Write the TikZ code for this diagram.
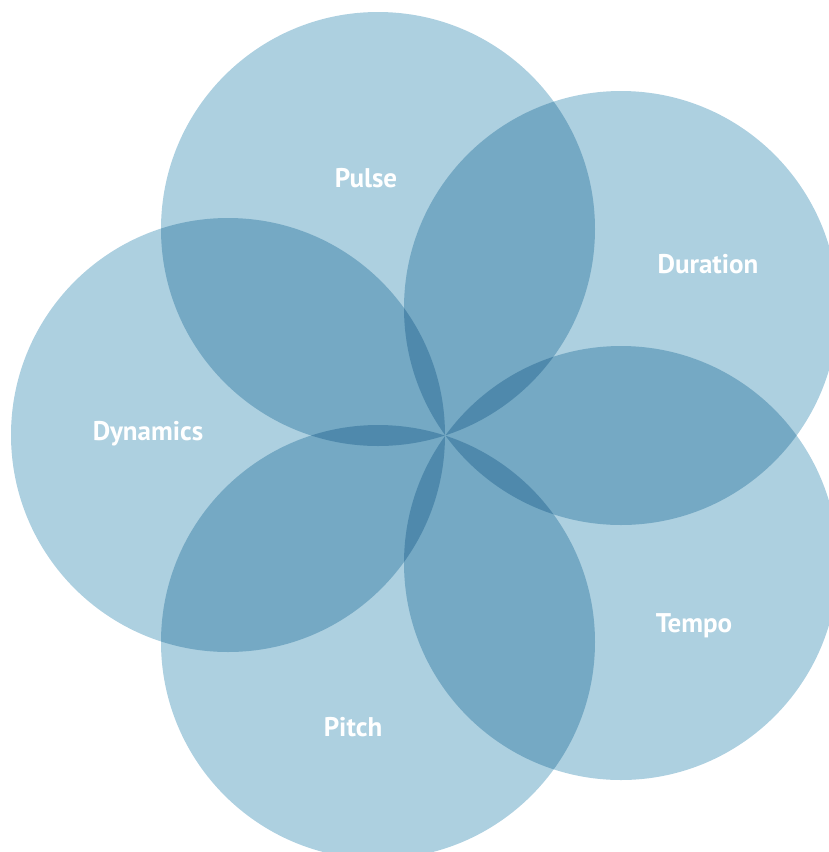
\documentclass[tikz,border=0pt]{standalone}
\usepackage{fontspec}
\setmainfont{PT Sans}
\definecolor{ringblue}{RGB}{173,208,224}
\begin{document}
\begin{tikzpicture}[x=1pt,y=-1pt]
\tikzstyle{ring}=[circle, minimum size=434pt, inner sep=0pt, fill=ringblue]
\tikzstyle{facet}=[text=white, font=\bfseries\fontsize{27}{27}\selectfont]
\useasboundingbox (0,0) rectangle (829,852);
\clip (0,0) rectangle (829,852);
% five rings meeting in one point
\begin{scope}[blend group=multiply]
\node[ring] (pulse) at (378,229) {};
\node[ring] (duration) at (621,308) {};
\node[ring] (tempo) at (621,563) {};
\node[ring] (pitch) at (378,642) {};
\node[ring] (dynamics) at (228,435) {};
\end{scope}
% names
\node[facet] (pulselabel) at (366,178) {Pulse};
\node[facet] (durationlabel) at (708,264) {Duration};
\node[facet] (tempolabel) at (694,626) {Tempo};
\node[facet] (pitchlabel) at (353,727) {Pitch};
\node[facet] (dynamicslabel) at (148,434) {Dynamics};
\end{tikzpicture}
\end{document}
